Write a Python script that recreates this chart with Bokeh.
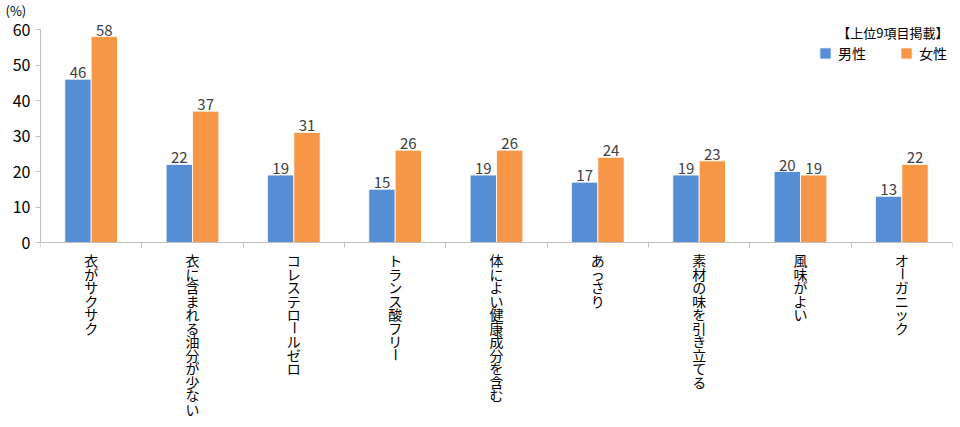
import math
from bokeh.plotting import figure
from bokeh.models import (ColumnDataSource, Range1d, FixedTicker, LabelSet, Label,
                          Legend, LegendItem)
from bokeh.core.properties import value
from bokeh.embed import file_html
from bokeh.resources import INLINE

categories = ["衣がサクサク", "衣に含まれる油分が少ない", "コレステロールゼロ", "トランス酸フリー",
              "体によい健康成分を含む", "あっさり", "素材の味を引き立てる", "風味がよい", "オーガニック"]
male = [46, 22, 19, 15, 19, 17, 19, 20, 13]
female = [58, 37, 31, 26, 26, 24, 23, 19, 22]
series_names = ["男性", "女性"]
y_ticks = [0, 10, 20, 30, 40, 50, 60]
unit_label = "(%)"
note_label = "【上位9項目掲載】"

FONT = "Noto Sans CJK JP"
BLUE = "#558ED5"
ORANGE = "#F79646"
AXIS = "#BFBFBF"

n = len(categories)
xc = [i + 0.5 for i in range(n)]
dodge = 0.13
bw = 0.26

# layout constants (pixels)
FRAME_H = 404
TOP_PANEL = 22          # height of the title panel
PX = 3.55               # pixels per percent
y_end = 60 + (30 - TOP_PANEL) / PX
y_start = y_end - FRAME_H / PX

p = figure(width=960, frame_height=FRAME_H, output_backend="svg", toolbar_location=None,
           x_range=Range1d(0, n), y_range=Range1d(y_start, y_end),
           min_border_left=40, min_border_top=0, min_border_bottom=0, min_border_right=8,
           title=unit_label)
p.outline_line_color = None
p.xgrid.grid_line_color = None
p.ygrid.grid_line_color = None
p.background_fill_color = "white"
p.border_fill_color = "white"

p.title.text_font = FONT
p.title.text_font_size = "13px"
p.title.text_font_style = "normal"
p.title.text_color = "#000000"
p.title.align = "left"
p.title.offset = -35
p.title.standoff = 0
p.title.vertical_align = "top"

src_m = ColumnDataSource(dict(x=[v - dodge for v in xc], top=male, lab=[str(v) for v in male]))
src_f = ColumnDataSource(dict(x=[v + dodge for v in xc], top=female, lab=[str(v) for v in female]))

rm = p.vbar(x="x", top="top", width=bw, source=src_m, fill_color=BLUE, line_color="white", line_width=0.8)
rf = p.vbar(x="x", top="top", width=bw, source=src_f, fill_color=ORANGE, line_color="white", line_width=0.8)

for s in (src_m, src_f):
    p.add_layout(LabelSet(x="x", y="top", text="lab", source=s, y_offset=1,
                          text_align="center", text_baseline="bottom",
                          text_font=value(FONT), text_font_size=value("15px"),
                          text_color=value("#404040")))

# y axis
p.yaxis.ticker = FixedTicker(ticks=y_ticks)
p.yaxis.bounds = (0, 60)
p.yaxis.axis_line_color = AXIS
p.yaxis.major_tick_line_color = AXIS
p.yaxis.major_tick_out = 5
p.yaxis.major_tick_in = 0
p.yaxis.minor_tick_line_color = None
p.yaxis.major_label_text_font = FONT
p.yaxis.major_label_text_font_size = "16px"
p.yaxis.major_label_text_color = "#000000"
p.yaxis.major_label_standoff = 5

# x axis at y = 0 with boundary ticks
boundaries = list(range(n + 1))
p.xaxis.fixed_location = 0
p.xaxis.ticker = FixedTicker(ticks=boundaries)
p.xaxis.major_label_overrides = {b: "" for b in boundaries}
p.xaxis.axis_line_color = AXIS
p.xaxis.major_tick_line_color = AXIS
p.xaxis.major_tick_out = 5
p.xaxis.major_tick_in = 0
p.xaxis.minor_tick_line_color = None
p.xaxis.major_label_standoff = 0

# category labels: upright characters stacked vertically
pitch = 13.5
start = 11
cx, cy, coff, ctext, cang = [], [], [], [], []
for i, cat in enumerate(categories):
    for k, ch in enumerate(cat):
        cx.append(xc[i])
        cy.append(0)
        coff.append(-(start + pitch / 2 + k * pitch))
        ctext.append(ch)
        cang.append(math.pi / 2 if ch == "ー" else 0.0)
src_c = ColumnDataSource(dict(x=cx, y=cy, yoff=coff, text=ctext, angle=cang))
p.add_layout(LabelSet(x="x", y="y", text="text", source=src_c, y_offset="yoff", angle="angle",
                      text_align="center", text_baseline="middle",
                      text_font=value(FONT), text_font_size=value("14px"),
                      text_color=value("#000000")))

# note at top right
p.add_layout(Label(x=n, y=y_end, x_offset=-4, y_offset=-1, text=note_label,
                   text_font=FONT, text_font_size="13px", text_color="#000000",
                   text_align="right", text_baseline="top"))

legend = Legend(items=[LegendItem(label=series_names[0], renderers=[rm]),
                       LegendItem(label=series_names[1], renderers=[rf])],
                location=(778, FRAME_H - (61 - TOP_PANEL) - 3), orientation="horizontal",
                glyph_width=14, glyph_height=14, spacing=33, padding=0, margin=0,
                label_text_font=FONT, label_text_font_size="14px", label_text_color="#000000",
                label_standoff=6, border_line_color=None, background_fill_alpha=0)
p.add_layout(legend, "center")

open("out.html", "w").write(file_html(p, INLINE))
